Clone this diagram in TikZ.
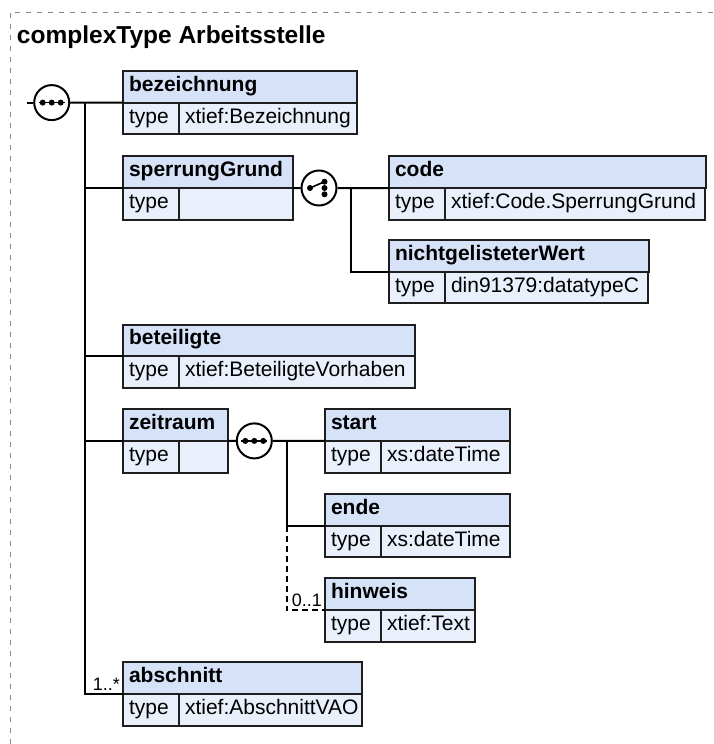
\documentclass[tikz,border=0pt]{standalone}
\usepackage{fontspec}
\setmainfont{Liberation Sans}
\usetikzlibrary{positioning}
\definecolor{hdrblue}{HTML}{D6E2F7}
\definecolor{rowblue}{HTML}{E9F0FB}
\definecolor{boxline}{HTML}{1E1E1E}
\definecolor{framegray}{HTML}{8A8A8A}

\begin{document}
\fontsize{10.5}{12}\selectfont
\begin{tikzpicture}[x=0.5pt, y=-0.5pt, line width=1pt,
    box/.style={draw=boxline, outer sep=0pt, inner xsep=3pt, inner ysep=0pt,
        text height=10.2pt, text depth=5.6pt, align=left, anchor=north west},
    hdr/.style={box, fill=hdrblue, font=\bfseries, text width=#1},
    tcell/.style={box, fill=rowblue, text width=22pt},
    vcell/.style={box, fill=rowblue, text width=#1},
    seq/.style={circle, draw, fill=white, minimum size=17.5pt, inner sep=0pt},
    lbl/.style={font=\fontsize{9}{10}\selectfont, inner sep=1pt, above left},
    frame/.style={framegray, line width=0.5pt, dash pattern=on 2.5pt off 3pt}]

    \useasboundingbox (0,0) rectangle (713,744);
    \draw[frame] (713,12) -- (10,12) -- (10,744);
    \node[anchor=base west, inner sep=0pt, font=\fontsize{12.25}{14}\selectfont\bfseries] (title) at (16,43) {complexType Arbeitsstelle};

    % elements
    \node[hdr=111pt] (bez) at (123,71) {bezeichnung};
    \node[tcell] (bezT) at (bez.south west) {type};
    \node[vcell=83pt] (bezV) at (bezT.north east) {xtief:Bezeichnung};

    \node[hdr=79pt] (sperr) at (123,156.4) {sperrungGrund};
    \node[tcell] (sperrT) at (sperr.south west) {type};
    \node[vcell=51pt] (sperrV) at (sperrT.north east) {};

    \node[hdr=152.5pt] (code) at (389,156.4) {code};
    \node[tcell] (codeT) at (code.south west) {type};
    \node[vcell=124pt] (codeV) at (codeT.north east) {xtief:Code.SperrungGrund};

    \node[hdr=124pt] (nicht) at (389,240) {nichtgelisteterWert};
    \node[tcell] (nichtT) at (nicht.south west) {type};
    \node[vcell=95.5pt] (nichtV) at (nichtT.north east) {din91379:datatypeC};

    \node[hdr=140pt] (betei) at (123,324.5) {beteiligte};
    \node[tcell] (beteiT) at (betei.south west) {type};
    \node[vcell=112pt] (beteiV) at (beteiT.north east) {xtief:BeteiligteVorhaben};

    \node[hdr=46.5pt] (zeit) at (123,409.3) {zeitraum};
    \node[tcell] (zeitT) at (zeit.south west) {type};
    \node[vcell=18.5pt] (zeitV) at (zeitT.north east) {};

    \node[hdr=86.5pt] (start) at (325,409.3) {start};
    \node[tcell] (startT) at (start.south west) {type};
    \node[vcell=58.5pt] (startV) at (startT.north east) {xs:dateTime};

    \node[hdr=86.5pt] (ende) at (325,494) {ende};
    \node[tcell] (endeT) at (ende.south west) {type};
    \node[vcell=58.5pt] (endeV) at (endeT.north east) {xs:dateTime};

    \node[hdr=69pt] (hinw) at (325,578.3) {hinweis};
    \node[tcell] (hinwT) at (hinw.south west) {type};
    \node[vcell=41pt] (hinwV) at (hinwT.north east) {xtief:Text};

    \node[hdr=113.5pt] (absch) at (123,662.3) {abschnitt};
    \node[tcell] (abschT) at (absch.south west) {type};
    \node[vcell=85.5pt] (abschV) at (abschT.north east) {xtief:AbschnittVAO};

    % compositors
    \node[seq] (root) at (51.7,102.6) {};
    \node[seq] (sgch) at (319,188) {};
    \node[seq] (zseq) at (254.3,440.9) {};

    \draw[line width=0.7pt] ([xshift=-6.5pt]root.center) -- ([xshift=6.5pt]root.center);
    \fill ([xshift=-4.5pt]root.center) circle (1.5pt);
    \fill (root.center) circle (1.5pt);
    \fill ([xshift=4.5pt]root.center) circle (1.5pt);

    \draw[line width=0.7pt] ([xshift=-6.5pt]zseq.center) -- ([xshift=6.5pt]zseq.center);
    \fill ([xshift=-4.5pt]zseq.center) circle (1.5pt);
    \fill (zseq.center) circle (1.5pt);
    \fill ([xshift=4.5pt]zseq.center) circle (1.5pt);

    \draw[line width=0.8pt] ([xshift=-4.5pt]sgch.center) -- ([xshift=2.75pt, yshift=3.15pt]sgch.center);
    \fill ([xshift=-4.5pt]sgch.center) circle (1.5pt);
    \fill ([xshift=2.75pt, yshift=3.15pt]sgch.center) circle (1.5pt);
    \fill ([xshift=2.75pt]sgch.center) circle (1.5pt);
    \fill ([xshift=2.75pt, yshift=-3.15pt]sgch.center) circle (1.5pt);

    % connectors
    \coordinate (rootin) at (27,102.6);
    \coordinate (tr) at (85,102.6);
    \draw (rootin) -- (root.west);
    \draw (root.east) -- (bez.south west);
    \draw (tr) |- (absch.south west) node[lbl] {1..*};
    \draw (tr |- sperr.south west) -- (sperr.south west);
    \draw (tr |- betei.south west) -- (betei.south west);
    \draw (tr |- zeit.south west) -- (zeit.south west);

    \coordinate (cj) at (351,188);
    \draw (sperr.south east) -- (sgch.west);
    \draw (sgch.east) -- (code.south west);
    \draw (cj) |- (nicht.south west);

    \coordinate (zj) at (286.7,440.9);
    \draw (zeit.south east) -- (zseq.west);
    \draw (zseq.east) -- (start.south west);
    \draw (zj) |- (ende.south west);
    \draw[dash pattern=on 3pt off 2pt] (zj |- ende.south west) |- (hinw.south west) node[lbl] {0..1};

\end{tikzpicture}
\end{document}
